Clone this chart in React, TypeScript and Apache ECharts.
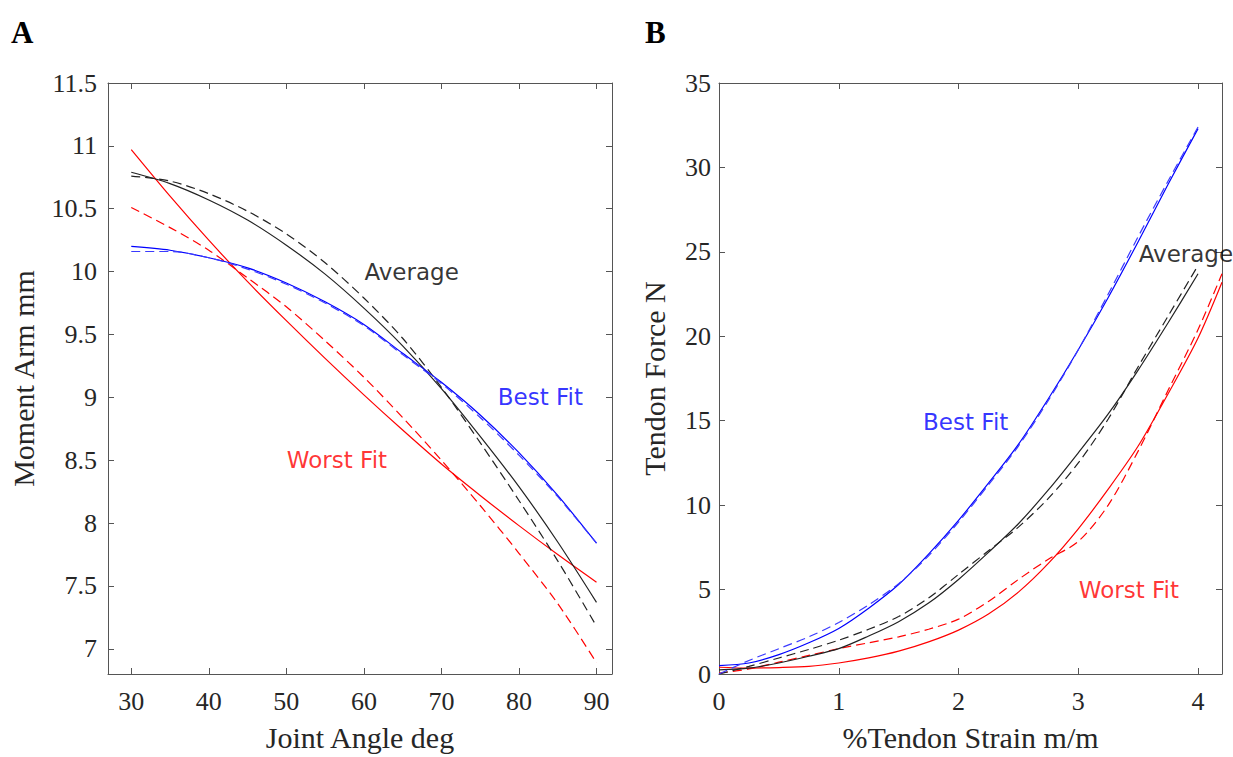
import React, { useEffect, useRef } from "react";
import * as echarts from "echarts";

// ---------- Panel A: Moment arm vs joint angle ----------
const anglesA = [30, 35, 40, 45, 50, 55, 60, 65, 70, 75, 80, 85, 90];
const bestSolidA = [10.2, 10.17, 10.11, 10.03, 9.91, 9.76, 9.58, 9.35, 9.12, 8.86, 8.56, 8.22, 7.84];
const bestDashA = [10.16, 10.16, 10.11, 10.02, 9.9, 9.75, 9.57, 9.34, 9.11, 8.84, 8.54, 8.21, 7.84];
const avgSolidA = [10.79, 10.7, 10.57, 10.41, 10.21, 9.98, 9.71, 9.41, 9.07, 8.69, 8.29, 7.85, 7.37];
const avgDashA = [10.76, 10.72, 10.62, 10.48, 10.3, 10.07, 9.79, 9.47, 9.08, 8.64, 8.18, 7.7, 7.18];
const worstSolidA = [10.97, 10.6, 10.25, 9.92, 9.61, 9.31, 9.02, 8.74, 8.47, 8.22, 7.98, 7.75, 7.53];
const worstDashA = [10.51, 10.35, 10.17, 9.95, 9.72, 9.45, 9.16, 8.84, 8.5, 8.14, 7.76, 7.36, 6.89];
const xTicksA = [30, 40, 50, 60, 70, 80, 90];
const yTicksA = [7, 7.5, 8, 8.5, 9, 9.5, 10, 10.5, 11, 11.5];

// ---------- Panel B: Tendon force vs strain ----------
const strainB = [0, 0.25, 0.5, 0.75, 1, 1.25, 1.5, 1.75, 2, 2.25, 2.5, 2.75, 3, 3.25, 3.5, 3.75, 4];
const strainRedB = [0, 0.25, 0.5, 0.75, 1, 1.25, 1.5, 1.75, 2, 2.25, 2.5, 2.75, 3, 3.25, 3.5, 3.75, 4, 4.2];
const bestSolidB = [0.5, 0.65, 1.15, 1.85, 2.7, 3.9, 5.3, 7.1, 9.1, 11.3, 13.6, 16.3, 19.2, 22.3, 25.6, 29.0, 32.3];
const bestDashB = [0.0, 0.8, 1.5, 2.2, 3.05, 4.1, 5.35, 7.0, 9.0, 11.2, 13.5, 16.2, 19.2, 22.5, 25.9, 29.2, 32.4];
const avgSolidB = [0.25, 0.35, 0.65, 1.05, 1.5, 2.25, 3.1, 4.2, 5.6, 7.2, 8.9, 10.9, 13.1, 15.4, 18.0, 20.8, 23.7];
const avgDashB = [0.0, 0.45, 0.95, 1.45, 2.0, 2.65, 3.4, 4.5, 5.9, 7.3, 8.7, 10.4, 12.5, 15.1, 18.2, 21.2, 24.2];
const worstSolidB = [0.4, 0.35, 0.38, 0.45, 0.65, 0.95, 1.35, 1.9, 2.6, 3.55, 4.85, 6.55, 8.6, 10.95, 13.5, 16.6, 19.9, 23.2];
const worstDashB = [0.05, 0.3, 0.7, 1.1, 1.5, 1.85, 2.2, 2.65, 3.25, 4.3, 5.6, 6.8, 7.85, 10.0, 13.2, 16.8, 20.4, 23.7];
const xTicksB = [0, 1, 2, 3, 4];
const yTicksB = [0, 5, 10, 15, 20, 25, 30, 35];

// ---------- Annotations (data coordinates, left-aligned) ----------
const notesA = [
  { name: "Average", value: [60, 10], color: "#000000" },
  { name: "Best Fit", value: [77.2, 9], color: "#0000ff" },
  { name: "Worst Fit", value: [50, 8.5], color: "#ff0000" },
];
const notesB = [
  { name: "Best Fit", value: [1.7, 14.95], color: "#0000ff" },
  { name: "Average", value: [3.5, 24.9], color: "#000000" },
  { name: "Worst Fit", value: [3.0, 4.95], color: "#ff0000" },
];

const SERIF = '"Liberation Serif", "Times New Roman", serif';
const SANS = '"DejaVu Sans", sans-serif';
const AXIS_COLOR = "#555555";
const LABEL_COLOR = "#262626";

const pairs = (xs: number[], ys: number[]) => xs.map((x, i) => [x, ys[i]]);

function mainAxis(min: number, max: number, ticks: number[], name: string, gap: number, margin: number, gridIndex: number, position: string) {
  return {
    type: "value",
    gridIndex,
    position,
    min,
    max,
    name,
    nameLocation: "middle",
    nameGap: gap,
    nameTextStyle: { fontFamily: SERIF, fontSize: 30, color: LABEL_COLOR },
    axisLine: { show: true, onZero: false, lineStyle: { color: AXIS_COLOR, width: 1 } },
    axisTick: { show: true, inside: true, length: 6, customValues: ticks, lineStyle: { color: AXIS_COLOR, width: 1 } },
    axisLabel: { show: true, customValues: ticks, margin, fontFamily: SERIF, fontSize: 26, color: LABEL_COLOR },
    splitLine: { show: false },
  };
}

function mirrorAxis(min: number, max: number, ticks: number[], gridIndex: number, position: string) {
  return {
    type: "value",
    gridIndex,
    position,
    min,
    max,
    axisLine: { show: true, onZero: false, lineStyle: { color: AXIS_COLOR, width: 1 } },
    axisTick: { show: true, inside: true, length: 6, customValues: ticks, lineStyle: { color: AXIS_COLOR, width: 1 } },
    axisLabel: { show: false },
    splitLine: { show: false },
  };
}

function lineSeries(xs: number[], ys: number[], color: string, dashed: boolean, xi: number, yi: number, z: number) {
  return {
    type: "line",
    xAxisIndex: xi,
    yAxisIndex: yi,
    data: pairs(xs, ys),
    showSymbol: false,
    symbol: "none",
    smooth: 0.3,
    clip: true,
    z,
    lineStyle: { color, width: 1.2, type: dashed ? [9, 5] : "solid" },
    silent: true,
  };
}

function noteSeries(notes: { name: string; value: number[]; color: string }[], xi: number, yi: number) {
  return {
    type: "scatter",
    xAxisIndex: xi,
    yAxisIndex: yi,
    symbolSize: 1,
    itemStyle: { color: "rgba(0,0,0,0)" },
    silent: true,
    z: 10,
    data: notes.map((n) => ({
      name: n.name,
      value: n.value,
      label: {
        show: true,
        position: "right",
        distance: 0,
        formatter: "{b}",
        color: n.color,
        fontFamily: SANS,
        fontSize: 23,
        align: "left",
        verticalAlign: "middle",
      },
    })),
  };
}

export default function App() {
  const ref = useRef<HTMLDivElement>(null);
  useEffect(() => {
    if (!ref.current) return;
    const chart = echarts.init(ref.current, null, { renderer: "svg" });
    chart.setOption({
      animation: false,
      backgroundColor: "#ffffff",
      grid: [
        { left: 108, top: 83, right: 621, bottom: 78, containLabel: false },
        { left: 719, top: 83, right: 11, bottom: 78, containLabel: false },
      ],
      xAxis: [
        mainAxis(27, 92, xTicksA, "Joint Angle deg", 48, 14, 0, "bottom"),
        mirrorAxis(27, 92, xTicksA, 0, "top"),
        mainAxis(0, 4.2, xTicksB, "%Tendon Strain m/m", 48, 14, 1, "bottom"),
        mirrorAxis(0, 4.2, xTicksB, 1, "top"),
      ],
      yAxis: [
        mainAxis(6.8, 11.5, yTicksA, "Moment Arm mm", 70, 11, 0, "left"),
        mirrorAxis(6.8, 11.5, yTicksA, 0, "right"),
        mainAxis(0, 35, yTicksB, "Tendon Force N", 50, 8, 1, "left"),
        mirrorAxis(0, 35, yTicksB, 1, "right"),
      ],
      graphic: [
        { type: "text", left: 11, top: 17, style: { text: "A", font: 'bold 31px "Liberation Serif"', fill: "#000" } },
        { type: "text", left: 645, top: 17, style: { text: "B", font: 'bold 31px "Liberation Serif"', fill: "#000" } },
      ],
      series: [
        lineSeries(anglesA, worstSolidA, "#ff0000", false, 0, 0, 2),
        lineSeries(anglesA, worstDashA, "#ff0000", true, 0, 0, 2),
        lineSeries(anglesA, avgSolidA, "#222222", false, 0, 0, 3),
        lineSeries(anglesA, avgDashA, "#222222", true, 0, 0, 3),
        lineSeries(anglesA, bestSolidA, "#0000ff", false, 0, 0, 4),
        lineSeries(anglesA, bestDashA, "#3a3aff", true, 0, 0, 4),
        noteSeries(notesA, 0, 0),
        lineSeries(strainB, bestSolidB, "#0000ff", false, 2, 2, 4),
        lineSeries(strainB, bestDashB, "#3a3aff", true, 2, 2, 4),
        lineSeries(strainB, avgSolidB, "#222222", false, 2, 2, 3),
        lineSeries(strainB, avgDashB, "#222222", true, 2, 2, 3),
        lineSeries(strainRedB, worstSolidB, "#ff0000", false, 2, 2, 2),
        lineSeries(strainRedB, worstDashB, "#ff0000", true, 2, 2, 2),
        noteSeries(notesB, 2, 2),
      ],
    });
    return () => chart.dispose();
  }, []);
  return (
    <div
      ref={ref}
      style={{ position: "absolute", left: 0, top: 0, width: 1233, height: 757, background: "#fff" }}
    />
  );
}
